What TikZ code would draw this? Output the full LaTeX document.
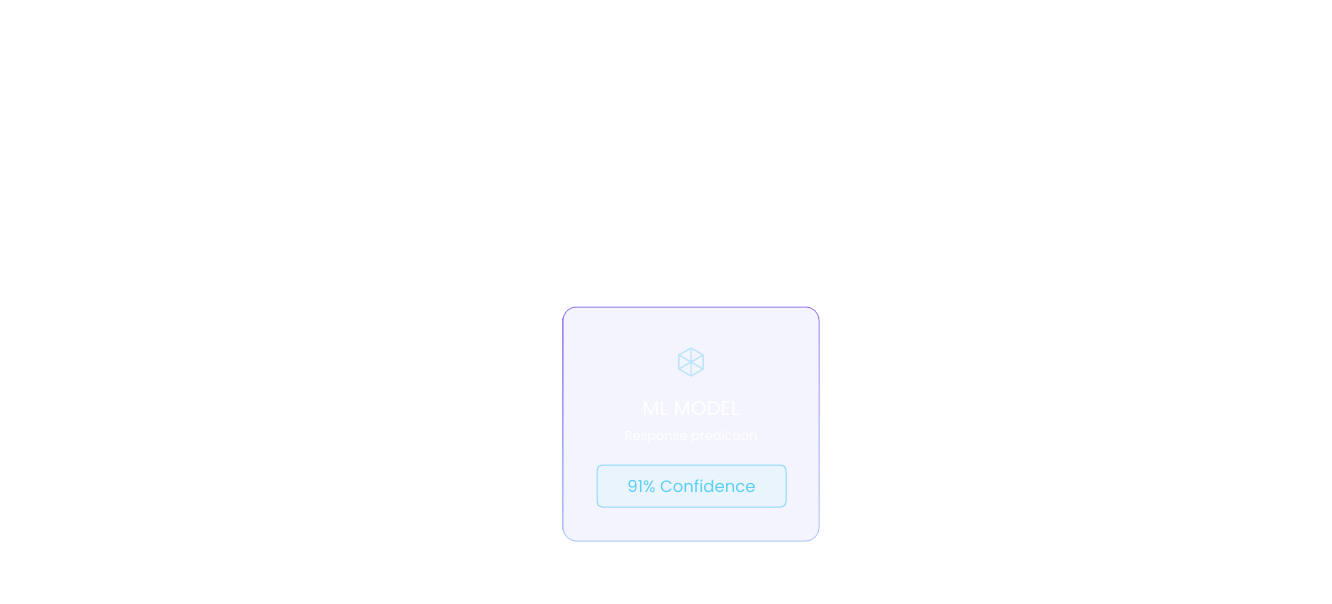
\documentclass[tikz,border=0pt]{standalone}
\usepackage{fontspec}
\setmainfont{Poppins}
\definecolor{cardfill}{HTML}{F3F4FD}
\definecolor{topb}{HTML}{9B7BEA}
\definecolor{botb}{HTML}{AFC8F8}
\definecolor{iconc}{HTML}{BDE6FA}
\definecolor{badgefill}{HTML}{EAF4FD}
\definecolor{badgeb}{HTML}{8DD8F8}
\definecolor{badget}{HTML}{5CCFF7}
\begin{document}
\begin{tikzpicture}[x=1pt,y=-1pt,
  cardtext/.style={text=white,font=\fontsize{20}{22}\selectfont},
  subtext/.style={text=white,font=\fontsize{13}{16}\selectfont}]
\useasboundingbox[fill=white] (0,0) rectangle (1332,604);
\shade[top color=topb,bottom color=botb,rounded corners=14pt] (562.5,306.5) rectangle (819.5,541.5);
\node[fill=cardfill,rounded corners=13pt,minimum width=255pt,minimum height=233pt,inner sep=0pt] (card) at (691,424) {};
\begin{scope}[shift={(691,362)},iconc,line width=1.4pt,line join=round]
\draw (90:14) -- (30:14) -- (-30:14) -- (-90:14) -- (-150:14) -- (150:14) -- cycle;
\draw (90:14) -- (-90:14) (30:14) -- (-150:14) (150:14) -- (-30:14);
\end{scope}
\node[cardtext] (title) at (691,409) {ML MODEL};
\node[subtext] (sub) at (691,437) {Response prediction};
\node[draw=badgeb,line width=1pt,fill=badgefill,rounded corners=5pt,minimum width=189pt,minimum height=42pt,text=badget,font=\fontsize{16.5}{20}\selectfont] (badge) at (691.5,486) {91\% Confidence};
\end{tikzpicture}
\end{document}
